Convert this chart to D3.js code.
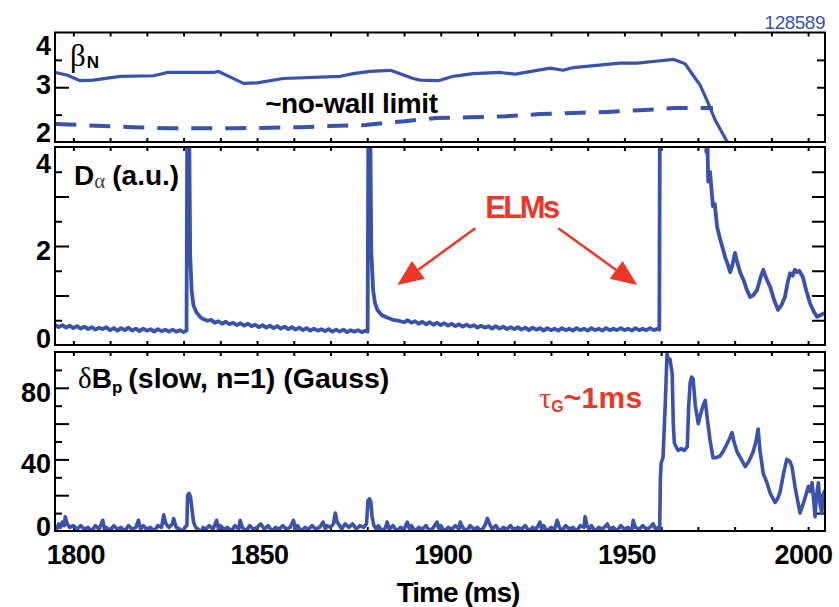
<!DOCTYPE html>
<html>
<head>
<meta charset="utf-8">
<script src="https://cdn.jsdelivr.net/npm/d3@7"></script>
<style>
  body { margin: 0; background: #fff; }
  svg { display: block; }
  text { font-family: "Liberation Sans", Arial, Helvetica, sans-serif; }
</style>
</head>
<body>
<svg id="chart" width="839" height="607"></svg>
<script>
// ---- shot number and time axis ----
const shotNumber = "128589";
const timeLabels = [1800, 1850, 1900, 1950, 2000];
const timeMinorTicks = d3.range(1800, 2001, 10);

// ---- beta_N (solid) and ~no-wall limit (dashed) ----
const betaN = [
  [1795.1, 3.27], [1798.4, 3.22], [1801.9, 3.12], [1805.4, 3.13], [1812.8, 3.20],
  [1821.8, 3.21], [1825.6, 3.27], [1838.1, 3.27], [1839.5, 3.29], [1846.3, 3.07],
  [1850.0, 3.08], [1857.1, 3.16], [1872.7, 3.20], [1876.2, 3.25], [1880.8, 3.29],
  [1886.3, 3.31], [1892.5, 3.16], [1894.4, 3.13], [1899.3, 3.12], [1903.4, 3.20],
  [1908.8, 3.25], [1916.2, 3.27], [1920.3, 3.24], [1929.8, 3.35], [1933.3, 3.31],
  [1936.1, 3.36], [1948.8, 3.44], [1953.5, 3.44], [1957.8, 3.47], [1963.3, 3.51],
  [1966.5, 3.43], [1968.7, 3.22], [1970.6, 3.04], [1972.8, 2.71], [1974.7, 2.40],
  [1978.0, 2.00], [1979.0, 1.85]
];
const noWallLimit = [
  [1795.1, 2.33], [1801.9, 2.31], [1816.3, 2.27], [1825.6, 2.25], [1844.0, 2.25],
  [1861.8, 2.27], [1869.9, 2.29], [1879.5, 2.31], [1884.9, 2.35], [1890.3, 2.38],
  [1899.0, 2.44], [1908.0, 2.45], [1917.6, 2.47], [1927.1, 2.51], [1936.1, 2.53],
  [1945.3, 2.55], [1954.3, 2.58], [1963.8, 2.62], [1974.1, 2.62]
];
const betaLabelTicks = [2, 3, 4];
const betaMajorTicks = [3];
const betaMinorTicks = [2.5, 3.5];

// ---- D-alpha (a.u.) ----
const dAlpha = [
  [1795,0.41],[1796,0.36],[1797,0.40],[1798,0.35],[1799,0.39],[1800,0.34],[1801,0.38],[1802,0.33],
  [1803,0.37],[1804,0.32],[1805,0.36],[1806,0.31],[1807,0.35],[1808,0.32],[1809,0.36],[1810,0.30],
  [1811,0.34],[1812,0.29],[1813,0.34],[1814,0.30],[1815,0.35],[1816,0.29],[1817,0.33],[1818,0.28],
  [1819,0.33],[1820,0.29],[1821,0.32],[1822,0.27],[1823,0.32],[1824,0.28],[1825,0.31],[1826,0.27],
  [1827,0.31],[1828,0.27],[1829,0.30],[1830,0.26],[1830.8,0.29],
  [1831.0,4.6],[1831.5,4.6],[1831.8,1.8],[1832.2,1.1],[1832.7,0.80],[1833.5,0.66],[1834.6,0.56],
  [1835.5,0.52],[1836.5,0.49],[1837.5,0.51],[1838.5,0.45],[1839.5,0.48],[1840.5,0.43],[1841.5,0.47],
  [1842.5,0.42],[1843.5,0.45],[1844.5,0.40],[1845.5,0.44],[1846.5,0.39],[1847.5,0.43],[1848.5,0.38],
  [1849.5,0.41],[1850.5,0.36],[1851.5,0.40],[1852.5,0.35],[1853.5,0.39],[1854.5,0.34],[1855.5,0.38],
  [1856.5,0.33],[1857.5,0.37],[1858.5,0.32],[1859.5,0.36],[1860.5,0.31],[1861.5,0.35],[1862.5,0.30],
  [1863.5,0.34],[1864.5,0.29],[1865.5,0.33],[1866.5,0.29],[1867.5,0.32],[1868.5,0.28],[1869.5,0.32],
  [1870.5,0.27],[1871.5,0.31],[1872.5,0.27],[1873.5,0.31],[1874.5,0.26],[1875.5,0.30],[1876.5,0.27],
  [1877.5,0.30],[1878.5,0.26],[1879.5,0.29],[1880.1,0.27],
  [1880.3,4.6],[1880.8,4.6],[1881.1,1.9],[1881.6,1.1],[1882.1,0.85],[1882.8,0.70],[1884,0.60],
  [1885.5,0.55],[1887,0.51],[1888.5,0.49],[1890,0.46],[1891,0.50],[1892,0.45],[1893,0.48],[1894,0.43],
  [1895,0.47],[1896,0.42],[1897,0.46],[1898,0.41],[1899,0.45],[1900,0.40],[1901,0.44],[1902,0.39],
  [1903,0.43],[1904,0.38],[1905,0.42],[1906,0.37],[1907,0.41],[1908,0.37],[1909,0.40],[1910,0.35],
  [1911,0.39],[1912,0.35],[1913,0.38],[1914,0.33],[1915,0.38],[1916,0.33],[1917,0.37],[1918,0.32],
  [1919,0.36],[1920,0.32],[1921,0.36],[1922,0.31],[1923,0.35],[1924,0.30],[1925,0.35],[1926,0.31],
  [1927,0.34],[1928,0.29],[1929,0.34],[1930,0.30],[1931,0.33],[1932,0.29],[1933,0.34],[1934,0.30],
  [1935,0.33],[1936,0.29],[1937,0.34],[1938,0.30],[1939,0.33],[1940,0.29],[1941,0.34],[1942,0.30],
  [1943,0.33],[1944,0.29],[1945,0.34],[1946,0.30],[1947,0.33],[1948,0.30],[1949,0.34],[1950,0.30],
  [1951,0.33],[1952,0.29],[1953,0.34],[1954,0.30],[1955,0.33],[1956,0.30],[1957,0.34],[1958,0.30],
  [1959,0.33],[1959.5,0.31],
  [1959.7,6.0],[1971.9,6.0],[1972.3,3.9],[1972.6,4.1],[1972.8,3.3],[1973.3,3.5],[1974.1,2.8],
  [1974.6,2.85],[1975.2,2.4],[1976.0,2.15],[1976.9,1.92],[1977.5,1.75],[1978.0,1.66],[1978.8,1.47],
  [1979.4,1.62],[1980.1,1.86],[1980.6,1.70],[1981.5,1.47],[1982.5,1.30],[1983.3,1.12],[1984.2,0.97],
  [1985.0,1.00],[1986.1,1.11],[1987.0,1.35],[1987.8,1.52],[1988.6,1.35],[1989.7,1.17],[1990.7,0.92],
  [1991.8,0.71],[1992.7,0.80],[1993.7,0.97],[1994.4,1.25],[1995.1,1.45],[1995.8,1.40],[1996.4,1.52],
  [1997.0,1.47],[1997.6,1.50],[1998.6,1.37],[1999.5,1.10],[2000.5,0.85],[2001.5,0.68],[2002.4,0.57],
  [2003.3,0.60],[2004.6,0.65]
];
const dAlphaLabelTicks = [0, 2, 4];
const dAlphaMajorTicks = [1, 2, 3];
const dAlphaMinorTicks = [0.5, 1.5, 2.5, 3.5];

// ---- delta B_p, slow n=1 (Gauss) ----
const deltaBp = [
  [1795,3],[1795.5,1],[1796,4],[1796.5,2],[1797,5],[1797.5,3],[1797.8,8],[1798.3,4],[1799,2],[1800,3],
  [1801,1],[1802,3],[1803,1],[1804,2],[1805,0],[1806,3],[1807,1],[1808,6],[1808.5,1],[1809,2],
  [1810,0],[1811,3],[1812,1],[1813,2],[1814,0],[1815,3],[1816,1],[1817,2],[1817.7,6],[1818.3,1],
  [1819,3],[1820,1],[1821,2],[1822,0],[1823,3],[1824,2],[1824.6,9],[1825.2,4],[1826,2],[1827,4],
  [1827.3,7],[1828,2],[1829,1],[1829.6,-1],[1830.3,2],[1830.9,3],[1831.1,20],[1831.5,21],[1831.9,19],
  [1832.3,12],[1832.7,5],[1833.3,2],[1834,1],[1834.6,-2],[1835.3,2],[1836,1],[1837,3],[1838,1],
  [1839,6],[1839.5,1],[1840,3],[1841,1],[1842,2],[1843,0],[1844,3],[1845,1],[1845.4,6],[1846,2],
  [1847,0],[1848,3],[1849,1],[1850,2],[1851,4],[1852,1],[1853,3],[1854,0],[1855,2],[1856,1],
  [1857,3],[1858,1],[1859,2],[1859.9,6],[1860.5,1],[1861,3],[1862,0],[1863,2],[1864,1],[1865,3],
  [1866,1],[1867,2],[1868,5],[1868.6,1],[1869,3],[1870,2],[1870.8,4],[1871.3,10],[1871.8,5],
  [1872.5,3],[1873,1],[1874,4],[1875,2],[1876,4],[1877,1],[1878,3],[1879,2],[1879.8,4],[1880.2,17],
  [1880.6,18],[1881.0,16],[1881.3,8],[1881.8,3],[1882.5,1],[1883,3],[1884,0],[1885,2],[1885.4,5],
  [1886,1],[1887,3],[1888,0],[1889,2],[1890,1],[1890.9,5],[1891.5,1],[1892,3],[1893,0],[1894,2],
  [1895,1],[1896,3],[1897,0],[1898,2],[1899,5],[1899.5,1],[1900,3],[1901,0],[1902,2],[1903,1],
  [1904,3],[1905,1],[1905.3,5],[1906,2],[1907,0],[1908,3],[1909,1],[1910,2],[1911,0],[1912,3],
  [1912.7,7],[1913.3,4],[1914,1],[1915,3],[1916,0],[1917,2],[1918,1],[1919,3],[1920,0],[1921,2],
  [1922,1],[1923,3],[1924,0],[1925,2],[1926,1],[1927,5],[1927.5,1],[1928,3],[1929,0],[1930,2],
  [1931,1],[1931.7,6],[1932.3,2],[1933,0],[1934,3],[1935,1],[1936,2],[1937,0],[1938,3],[1939,2],
  [1939.3,8],[1939.8,3],[1940.5,1],[1941,3],[1942,0],[1943,2],[1944,1],[1945,3],[1945.3,4],[1946,1],
  [1947,2],[1948,0],[1949,3],[1950,1],[1951,2],[1952,0],[1952.4,6],[1953,2],[1954,1],[1955,3],
  [1956,1],[1957,2],[1957.8,4],[1958.5,1],[1959.2,2],[1959.6,1],
  [1959.8,30],[1960.0,38],[1960.5,41],[1961.1,70],[1961.6,99],[1962.0,95],[1962.4,96],[1963.0,88],
  [1963.3,60],[1963.6,49],[1964.6,45],[1965.5,46],[1966.3,45],[1967.1,47],[1967.5,70],[1967.9,83],
  [1968.3,86],[1968.7,85],[1969.3,70],[1970.1,60],[1970.7,65],[1971.4,70],[1972.0,73],[1972.6,62],
  [1973.3,51],[1974.1,41],[1975.0,41],[1976.1,42],[1977.0,45],[1978.0,49],[1978.7,52],[1979.3,55],
  [1979.8,50],[1980.7,44],[1981.8,40],[1982.9,36],[1983.9,39],[1985.0,44],[1985.8,50],[1986.4,57],
  [1986.9,45],[1987.8,32],[1988.8,27],[1989.7,21],[1991.0,16],[1991.7,18],[1992.4,22],[1993.3,32],
  [1994.2,40],[1995.0,39],[1995.6,36],[1996.5,24],[1997.8,10],[1998.8,16],[2000.1,25],[2000.6,22],
  [2001.1,27],[2001.6,15],[2001.9,8],[2002.3,20],[2002.8,27],[2003.2,16],[2003.7,10],[2004.2,21],
  [2004.6,23]
];
const bpLabelTicks = [0, 40, 80];
const bpMajorTicks = [20, 40, 60, 80];
const bpMinorTicks = [10, 30, 50, 70, 90];

// ---- colours ----
const traceBlue = "#3953ad";
const noteRed = "#ee3526";

const svg = d3.select("#chart");

const plotLeft = 55, plotRight = 825;
const x = d3.scaleLinear().domain([1795, 2004.6]).range([plotLeft, plotRight]);

// labelShift nudges the value labels; padTop/padBottom keep end labels inside the frame
const panels = [
  { key: "beta", top: 32.5, bottom: 142, domain: [2, 4],
    labels: betaLabelTicks, major: betaMajorTicks, minor: betaMinorTicks, rightTick: 8,
    labelShift: -3, padTop: 12.5, padBottom: 10 },
  { key: "dalpha", top: 147, bottom: 345, domain: [0, 4],
    labels: dAlphaLabelTicks, major: dAlphaMajorTicks, minor: dAlphaMinorTicks, rightTick: 13,
    labelShift: 4, padTop: 16, padBottom: 7 },
  { key: "bp", top: 352, bottom: 531, domain: [0, 100],
    labels: bpLabelTicks, major: bpMajorTicks, minor: bpMinorTicks, rightTick: 12,
    labelShift: 4, padTop: 13, padBottom: 5 }
];

panels.forEach(p => {
  p.y = d3.scaleLinear().domain(p.domain).range([p.bottom, p.top]);
  const g = svg.append("g").attr("class", "panel-" + p.key);

  svg.append("clipPath").attr("id", "clip-" + p.key)
    .append("rect")
    .attr("x", plotLeft).attr("y", p.top)
    .attr("width", plotRight - plotLeft).attr("height", p.bottom - p.top);

  // time ticks along top and bottom, pointing inward
  const tb = g.append("g").attr("transform", `translate(0,${p.bottom})`)
    .call(d3.axisBottom(x).tickValues(timeMinorTicks).tickSize(-4).tickFormat(""));
  const tt = g.append("g").attr("transform", `translate(0,${p.top})`)
    .call(d3.axisTop(x).tickValues(timeMinorTicks).tickSize(-4).tickFormat(""));

  // value ticks: long majors and short minors on the left, uniform on the right
  const lMaj = g.append("g").attr("transform", `translate(${plotLeft},0)`)
    .call(d3.axisLeft(p.y).tickValues(p.major).tickSize(-14).tickFormat(""));
  const lMin = g.append("g").attr("transform", `translate(${plotLeft},0)`)
    .call(d3.axisLeft(p.y).tickValues(p.minor).tickSize(-7).tickFormat(""));
  const rAll = g.append("g").attr("transform", `translate(${plotRight},0)`)
    .call(d3.axisRight(p.y).tickValues(p.major.concat(p.minor)).tickSize(-p.rightTick).tickFormat(""));

  [tb, tt, lMaj, lMin, rAll].forEach(a => {
    a.select(".domain").remove();
    a.selectAll(".tick line").attr("stroke", "#000").attr("stroke-width", 2);
  });

  const lab = g.append("g").attr("transform", `translate(${plotLeft},0)`)
    .call(d3.axisLeft(p.y).tickValues(p.labels).tickSize(0).tickPadding(4).tickFormat(d3.format("d")));
  lab.select(".domain").remove();
  lab.selectAll(".tick").attr("transform", d => {
    let cy = p.y(d) + p.labelShift;
    cy = Math.max(p.top + p.padTop, Math.min(p.bottom - p.padBottom, cy));
    return `translate(0,${cy})`;
  });
  lab.selectAll(".tick text")
    .attr("fill", "#000").attr("font-size", 27).attr("font-weight", "bold")
    .attr("font-family", '"Liberation Sans", Arial, sans-serif')
    .attr("dy", "0.36em").attr("x", -4);
});

// ---- traces ----
const pBeta = panels[0], pDa = panels[1], pBp = panels[2];

function trace(p, data, width, dash) {
  const line = d3.line().x(d => x(d[0])).y(d => p.y(d[1]));
  const path = svg.append("path")
    .datum(data)
    .attr("clip-path", `url(#clip-${p.key})`)
    .attr("fill", "none")
    .attr("stroke", traceBlue)
    .attr("stroke-width", width)
    .attr("stroke-linejoin", "round")
    .attr("stroke-linecap", "butt")
    .attr("d", line);
  if (dash) path.attr("stroke-dasharray", dash);
  return path;
}

trace(pBeta, noWallLimit, 4, "21,13");
trace(pBeta, betaN, 3.2);
trace(pDa, dAlpha, 3.8);
trace(pBp, deltaBp, 3.6);

// ---- panel frames ----
panels.forEach(p => {
  svg.append("rect")
    .attr("x", plotLeft).attr("y", p.top)
    .attr("width", plotRight - plotLeft).attr("height", p.bottom - p.top)
    .attr("fill", "none").attr("stroke", "#000").attr("stroke-width", 2);
});

// ---- time axis labels ----
const xl = svg.append("g").attr("transform", `translate(0,${pBp.bottom})`)
  .call(d3.axisBottom(x).tickValues(timeLabels).tickSize(0).tickPadding(14).tickFormat(d3.format("d")));
xl.select(".domain").remove();
xl.selectAll(".tick text")
  .attr("fill", "#000").attr("font-size", 27).attr("font-weight", "bold")
  .attr("font-family", '"Liberation Sans", Arial, sans-serif')
  .attr("letter-spacing", -0.5)
  .attr("x", d => d === 2000 ? -5 : 2);

svg.append("text")
  .attr("x", 458).attr("y", 602)
  .attr("text-anchor", "middle")
  .attr("font-size", 28).attr("font-weight", "bold")
  .attr("letter-spacing", -1)
  .text("Time (ms)");

// ---- shot number ----
svg.append("text")
  .attr("x", plotRight).attr("y", 29)
  .attr("text-anchor", "end")
  .attr("font-size", 19)
  .attr("fill", traceBlue)
  .attr("letter-spacing", -0.5)
  .text(shotNumber);

// ---- panel titles ----
const serif = '"Liberation Serif", "DejaVu Serif", serif';

const tBeta = svg.append("text").attr("x", 70).attr("y", 66);
tBeta.append("tspan").attr("font-family", serif).attr("font-size", 31).text("β");
tBeta.append("tspan").attr("font-size", 17).attr("font-weight", "bold").attr("dy", 2).attr("dx", 1).text("N");

svg.append("text")
  .attr("x", x(1852.2)).attr("y", pBeta.y(2.53))
  .attr("font-size", 28).attr("font-weight", "bold").attr("letter-spacing", -0.4)
  .text("~no-wall limit");

const tDa = svg.append("text").attr("x", 74).attr("y", 185);
tDa.append("tspan").attr("font-size", 28).attr("font-weight", "bold").text("D");
tDa.append("tspan").attr("font-family", serif).attr("font-size", 21).attr("fill", "#444").attr("dy", 3).text("α");
tDa.append("tspan").attr("font-size", 28).attr("font-weight", "bold").attr("dy", -3).attr("dx", 7).text("(a.u.)");

const tBp = svg.append("text").attr("x", 78).attr("y", 388);
tBp.append("tspan").attr("font-family", serif).attr("font-size", 29).text("δ");
tBp.append("tspan").attr("font-size", 28).attr("font-weight", "bold").text("B");
tBp.append("tspan").attr("font-size", 17).attr("font-weight", "bold").attr("dy", 5).text("p");
tBp.append("tspan").attr("font-size", 28.5).attr("font-weight", "bold").attr("dy", -5).attr("dx", 6).text("(slow, n=1) (Gauss)");

// ---- ELM annotation ----
const elmText = { t: 1912.1, v: 2.57 };
const elmArrows = [
  { from: [1909.4, 2.36], to: [1888.2, 1.21] },
  { from: [1932.0, 2.36], to: [1953.5, 1.21] }
];
svg.append("text")
  .attr("x", x(elmText.t)).attr("y", pDa.y(elmText.v))
  .attr("font-size", 31).attr("font-weight", "bold").attr("fill", noteRed)
  .attr("letter-spacing", -2.5)
  .text("ELMs");

elmArrows.forEach(a => {
  const x1 = x(a.from[0]), y1 = pDa.y(a.from[1]);
  const x2 = x(a.to[0]), y2 = pDa.y(a.to[1]);
  const ang = Math.atan2(y2 - y1, x2 - x1);
  const headLen = 26, headHalf = 11;
  const bx = x2 - headLen * Math.cos(ang), by = y2 - headLen * Math.sin(ang);
  svg.append("line")
    .attr("x1", x1).attr("y1", y1).attr("x2", bx).attr("y2", by)
    .attr("stroke", noteRed).attr("stroke-width", 2.5);
  const px = -Math.sin(ang), py = Math.cos(ang);
  svg.append("path")
    .attr("d", `M${x2},${y2}L${bx + px * headHalf},${by + py * headHalf}L${bx - px * headHalf},${by - py * headHalf}Z`)
    .attr("fill", noteRed);
});

// ---- growth-time note ----
const tau = svg.append("text").attr("x", x(1926.8)).attr("y", pBp.y(68.7)).attr("fill", noteRed);
tau.append("tspan").attr("font-family", serif).attr("font-size", 30).text("τ");
tau.append("tspan").attr("font-size", 16).attr("font-weight", "bold").attr("dy", 4).text("G");
tau.append("tspan").attr("font-size", 30).attr("font-weight", "bold").attr("dy", -4).attr("letter-spacing", 0.3).text("~1ms");
</script>
</body>
</html>
